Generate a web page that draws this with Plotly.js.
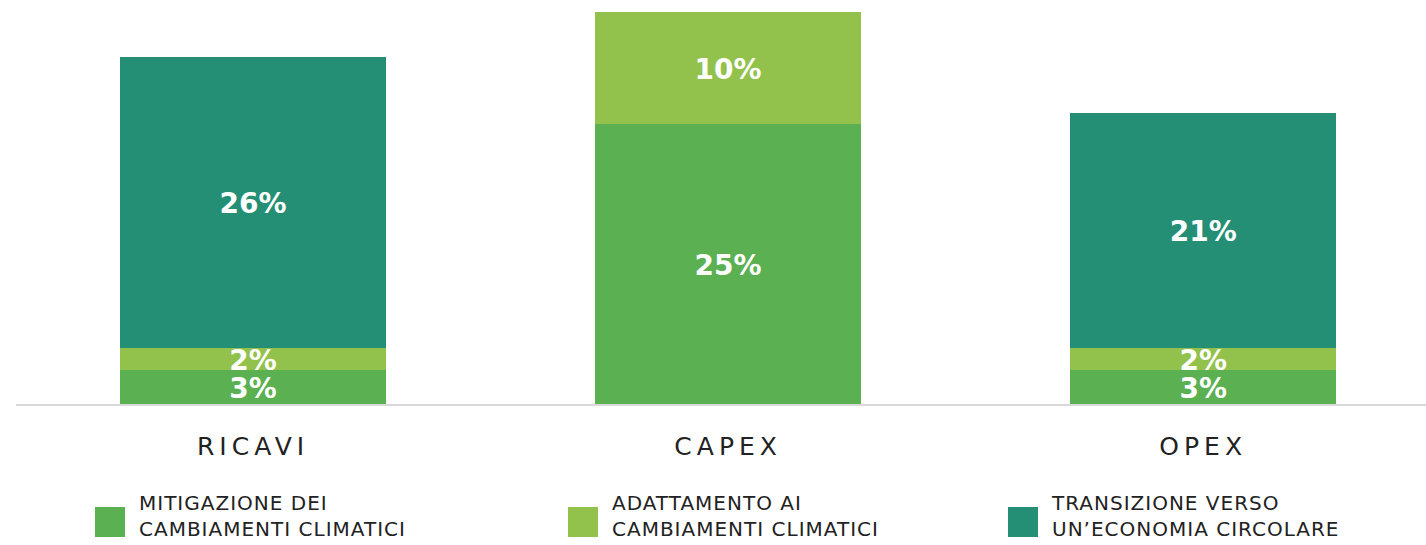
<!DOCTYPE html>
<html>
<head>
<meta charset="utf-8">
<script src="https://cdn.plot.ly/plotly-3.0.1.min.js"></script>
<style>
  html, body { margin: 0; padding: 0; background: #fff; }
  #chart { width: 1426px; height: 545px; }
  .xtick text { letter-spacing: 5px; }
  .legendtext { letter-spacing: 1px; transform: translateY(-7px); }
  .textpoint text { transform: translateY(4px); }
</style>
</head>
<body>
<div id="chart"></div>
<script>
// ---- Data ----
const categories = ['RICAVI', 'CAPEX', 'OPEX'];
const seriesNames = [
  'MITIGAZIONE DEI<br>CAMBIAMENTI CLIMATICI',
  'ADATTAMENTO AI<br>CAMBIAMENTI CLIMATICI',
  'TRANSIZIONE VERSO<br>UN\u2019ECONOMIA CIRCOLARE'
];
const mitigazione = [3, 25, 3];
const adattamento = [2, 10, 2];
const transizione = [26, 0, 21];
const seriesColors = ['#5BB052', '#92C24B', '#248F75'];

const allSeries = [mitigazione, adattamento, transizione];

const traces = [];
// stacked bars
allSeries.forEach((vals, i) => {
  traces.push({
    type: 'bar',
    name: seriesNames[i],
    x: categories,
    y: vals,
    marker: { color: seriesColors[i], line: { width: 0 } },
    hoverinfo: 'skip',
    showlegend: true
  });
});
// labels positioned at the middle of each stacked segment
const base = [0, 0, 0];
allSeries.forEach((vals, i) => {
  const mids = vals.map((v, k) => base[k] + v / 2);
  const texts = vals.map(v => v > 0 ? v + '%' : '');
  vals.forEach((v, k) => { base[k] += v; });
  traces.push({
    type: 'scatter',
    mode: 'text',
    x: categories,
    y: mids,
    text: texts,
    textposition: 'middle center',
    textfont: { family: 'DejaVu Sans', size: 28, color: '#ffffff', weight: 'bold' },
    hoverinfo: 'skip',
    showlegend: false
  });
});

const layout = {
  width: 1426,
  height: 545,
  margin: { l: 16, r: 0, t: 0, b: 141 },
  paper_bgcolor: '#ffffff',
  plot_bgcolor: '#ffffff',
  barmode: 'stack',
  bargap: 0.44,
  font: { family: 'DejaVu Sans', color: '#222222' },
  xaxis: {
    type: 'category',
    range: [-0.499, 2.469],
    showgrid: false,
    zeroline: false,
    showline: true,
    linecolor: '#d9d9d9',
    linewidth: 2,
    ticks: '',
    ticklabelstandoff: 19,
    tickfont: { family: 'DejaVu Sans', size: 25, color: '#222222' },
    fixedrange: true
  },
  yaxis: {
    range: [0, 36.07],
    showgrid: false,
    zeroline: false,
    showline: false,
    showticklabels: false,
    ticks: '',
    fixedrange: true
  },
  showlegend: true,
  legend: {
    orientation: 'h',
    traceorder: 'normal',
    xref: 'container',
    yref: 'container',
    x: 89 / 1426,
    xanchor: 'left',
    y: 0.042,
    yanchor: 'middle',
    entrywidth: 400,
    entrywidthmode: 'pixels',
    itemwidth: 40,
    font: { family: 'DejaVu Sans', size: 20, color: '#222222' },
    bgcolor: 'rgba(0,0,0,0)'
  }
};

// target left edge / vertical centre of legend swatches (page pixels)
const legendSwatchLeft = [95, 568, 1008];
const legendSwatchCenterY = 522;

Plotly.newPlot('chart', traces, layout, { displayModeBar: false, staticPlot: true }).then(gd => {
  document.querySelectorAll('.legend [clip-path]').forEach(e => e.removeAttribute('clip-path'));
  document.querySelectorAll('.legend .legendpoints path').forEach(p => {
    p.setAttribute('d', 'M11,15H-19V-15H11Z');
  });
  const parseT = s => {
    const m = (s || '').match(/translate\(\s*([-\d.]+)[ ,]*([-\d.]*)\s*\)/);
    return m ? [parseFloat(m[1]), parseFloat(m[2] || 0)] : [0, 0];
  };
  // place each legend entry (swatch left edge and vertical centre)
  const items = document.querySelectorAll('.legend .traces');
  items.forEach((g, i) => {
    const p = g.querySelector('.legendpoints path');
    if (!p) return;
    const r = p.getBoundingClientRect();
    const dx = legendSwatchLeft[i] - r.left;
    const dy = legendSwatchCenterY - (r.top + r.height / 2);
    const [x, y] = parseT(g.getAttribute('transform'));
    g.setAttribute('transform', 'translate(' + (x + dx) + ',' + (y + dy) + ')');
  });
});
</script>
</body>
</html>
